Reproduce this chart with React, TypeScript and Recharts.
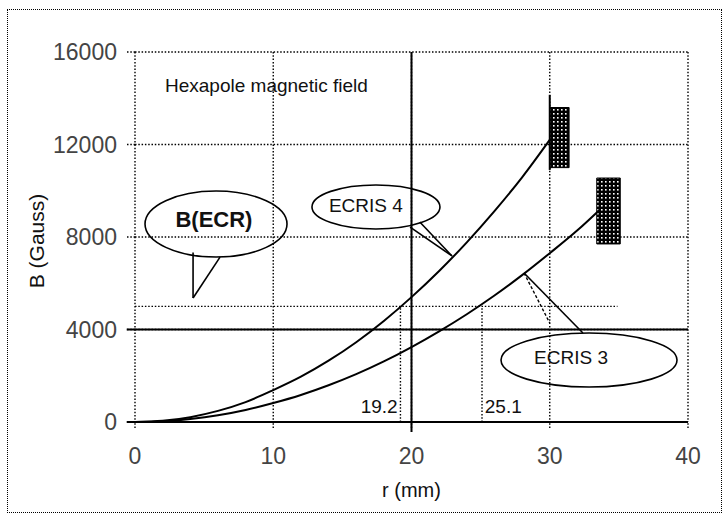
import {
  CartesianGrid,
  Line,
  LineChart,
  ReferenceArea,
  ReferenceDot,
  ReferenceLine,
  XAxis,
  YAxis,
} from "recharts";

// radius (mm) and field (Gauss)
const radius4 = [0, 2, 4, 6, 8, 10, 12, 14, 16, 18, 20, 22, 24, 26, 28, 30];
const field4 = [0, 50, 210, 480, 860, 1380, 1960, 2650, 3450, 4370, 5400, 6530, 7770, 9120, 10580, 12200];
const radius3 = [0, 2, 4, 6, 8, 10, 12, 14, 16, 18, 20, 22, 24, 26, 28, 30, 32, 33.6];
const field3 = [0, 30, 130, 290, 520, 820, 1170, 1590, 2070, 2620, 3240, 3920, 4660, 5470, 6350, 7300, 8290, 9170];

const xTicks = [0, 10, 20, 30, 40];
const yTicks = [0, 4000, 8000, 12000, 16000];

const ecrField = 5000;
const ecrRadius4 = 19.2;
const ecrRadius3 = 25.1;

const ecris4 = radius4.map((r, i) => ({ r, b: field4[i] }));
const ecris3 = radius3.map((r, i) => ({ r, b: field3[i] }));

const font = "'Liberation Sans', Arial, sans-serif";

function Bubble(props: any) {
  const { cx, cy, rx, ry } = props;
  return <ellipse cx={cx} cy={cy} rx={rx} ry={ry} fill="none" stroke="#000" strokeWidth={1.6} />;
}

function Note(props: any) {
  const { cx, cy, text, size, anchor, weight } = props;
  return (
    <text
      x={cx}
      y={cy}
      dy="0.35em"
      textAnchor={anchor || "middle"}
      fontFamily={font}
      fontSize={size}
      fontWeight={weight || "normal"}
      fill="#111"
    >
      {text}
    </text>
  );
}

function YTitle(props: any) {
  const { viewBox } = props;
  const x = viewBox.x + 2;
  const y = viewBox.y + viewBox.height / 2 + 4;
  return (
    <text
      x={x}
      y={y}
      dy="0.35em"
      transform={`rotate(-90, ${x}, ${y})`}
      textAnchor="middle"
      fontFamily={font}
      fontSize={21}
      fill="#111"
    >
      B (Gauss)
    </text>
  );
}

const dotted = { stroke: "#000", strokeDasharray: "1.5 1.8", strokeWidth: 1.4 };
const solid = { stroke: "#000", strokeWidth: 2 };

export default function App() {
  return (
    <div style={{ position: "absolute", left: 0, top: 0, width: 727, height: 517, background: "#fff" }}>
      <div
        style={{
          position: "absolute",
          left: 7,
          top: 9,
          width: 713,
          height: 502,
          border: "1px dotted #000",
        }}
      />
      <LineChart
        width={727}
        height={517}
        margin={{ top: 52, right: 39, bottom: 15, left: 35 }}
        style={{ position: "absolute", left: 0, top: 0 }}
      >
        <defs>
          <pattern id="hatch" width="4" height="4" patternUnits="userSpaceOnUse">
            <rect width="4" height="4" fill="#000" />
            <rect x="1" y="1" width="1.6" height="1.6" fill="#fff" />
          </pattern>
        </defs>
        <CartesianGrid {...dotted} />
        <XAxis
          type="number"
          dataKey="r"
          domain={[0, 40]}
          ticks={xTicks}
          allowDataOverflow
          height={80}
          axisLine={false}
          tickLine={dotted}
          tickSize={6}
          tickMargin={20}
          tick={{ fontFamily: font, fontSize: 23, fill: "#444" }}
          label={{ value: "r (mm)", position: "insideBottom", offset: 5, fontFamily: font, fontSize: 20, fill: "#111" }}
        />
        <YAxis
          type="number"
          domain={[0, 16000]}
          ticks={yTicks}
          allowDataOverflow
          width={100}
          axisLine={false}
          tickLine={dotted}
          tickSize={8}
          tickMargin={10}
          tick={{ fontFamily: font, fontSize: 23, fill: "#444" }}
          label={<YTitle />}
        />

        <ReferenceLine segment={[{ x: -0.6, y: 0 }, { x: 40, y: 0 }]} ifOverflow="visible" {...solid} />
        <ReferenceLine segment={[{ x: -0.6, y: 4000 }, { x: 40, y: 4000 }]} ifOverflow="visible" {...solid} />
        <ReferenceLine segment={[{ x: 20, y: -430 }, { x: 20, y: 16000 }]} ifOverflow="visible" {...solid} />
        <ReferenceLine segment={[{ x: 30, y: 10900 }, { x: 30, y: 14150 }]} ifOverflow="visible" {...solid} />

        <ReferenceLine segment={[{ x: 0, y: ecrField }, { x: 34.9, y: ecrField }]} {...dotted} />
        <ReferenceLine segment={[{ x: ecrRadius4, y: 0 }, { x: ecrRadius4, y: ecrField }]} {...dotted} />
        <ReferenceLine segment={[{ x: ecrRadius3, y: 0 }, { x: ecrRadius3, y: ecrField }]} {...dotted} />

        <ReferenceArea x1={30} x2={31.4} y1={11000} y2={13600} fill="url(#hatch)" fillOpacity={1} stroke="#000" strokeWidth={1} />
        <ReferenceArea x1={33.4} x2={35.1} y1={7700} y2={10550} fill="url(#hatch)" fillOpacity={1} stroke="#000" strokeWidth={1} />

        <Line data={ecris4} dataKey="b" type="monotone" stroke="#000" strokeWidth={2} dot={false} isAnimationActive={false} />
        <Line data={ecris3} dataKey="b" type="monotone" stroke="#000" strokeWidth={2} dot={false} isAnimationActive={false} />

        {/* B(ECR) speech bubble */}
        <ReferenceDot x={5.86} y={8560} shape={(p: any) => <Bubble {...p} rx={71} ry={33} />} />
        <ReferenceLine segment={[{ x: 4.2, y: 7330 }, { x: 4.2, y: 5360 }]} {...solid} strokeWidth={1.6} />
        <ReferenceLine segment={[{ x: 4.2, y: 5360 }, { x: 6.15, y: 7130 }]} {...solid} strokeWidth={1.6} />
        <ReferenceDot x={5.71} y={8780} shape={(p: any) => <Note {...p} text="B(ECR)" size={22} weight="bold" />} />

        {/* ECRIS 4 callout */}
        <ReferenceDot x={17.43} y={9300} shape={(p: any) => <Bubble {...p} rx={64} ry={22} />} />
        <ReferenceLine segment={[{ x: 19.9, y: 8430 }, { x: 22.93, y: 7180 }]} {...solid} strokeWidth={1.6} />
        <ReferenceLine segment={[{ x: 20.6, y: 8650 }, { x: 22.93, y: 7180 }]} {...solid} strokeWidth={1.6} />
        <ReferenceDot x={16.7} y={9380} shape={(p: any) => <Note {...p} text="ECRIS 4" size={19} />} />

        {/* ECRIS 3 callout */}
        <ReferenceDot x={32.84} y={2680} shape={(p: any) => <Bubble {...p} rx={88} ry={27} />} />
        <ReferenceLine segment={[{ x: 28.14, y: 6443 }, { x: 30.0, y: 4280 }]} stroke="#000" strokeWidth={1.4} strokeDasharray="3 2" />
        <ReferenceLine segment={[{ x: 28.14, y: 6443 }, { x: 32.4, y: 3850 }]} {...solid} strokeWidth={1.6} />
        <ReferenceDot x={31.54} y={2810} shape={(p: any) => <Note {...p} text="ECRIS 3" size={19} />} />

        <ReferenceDot x={2.17} y={14570} shape={(p: any) => <Note {...p} text="Hexapole magnetic field" size={19} anchor="start" />} />
        <ReferenceDot x={19.0} y={690} shape={(p: any) => <Note {...p} text="19.2" size={19} anchor="end" />} />
        <ReferenceDot x={25.3} y={690} shape={(p: any) => <Note {...p} text="25.1" size={19} anchor="start" />} />
      </LineChart>
    </div>
  );
}
